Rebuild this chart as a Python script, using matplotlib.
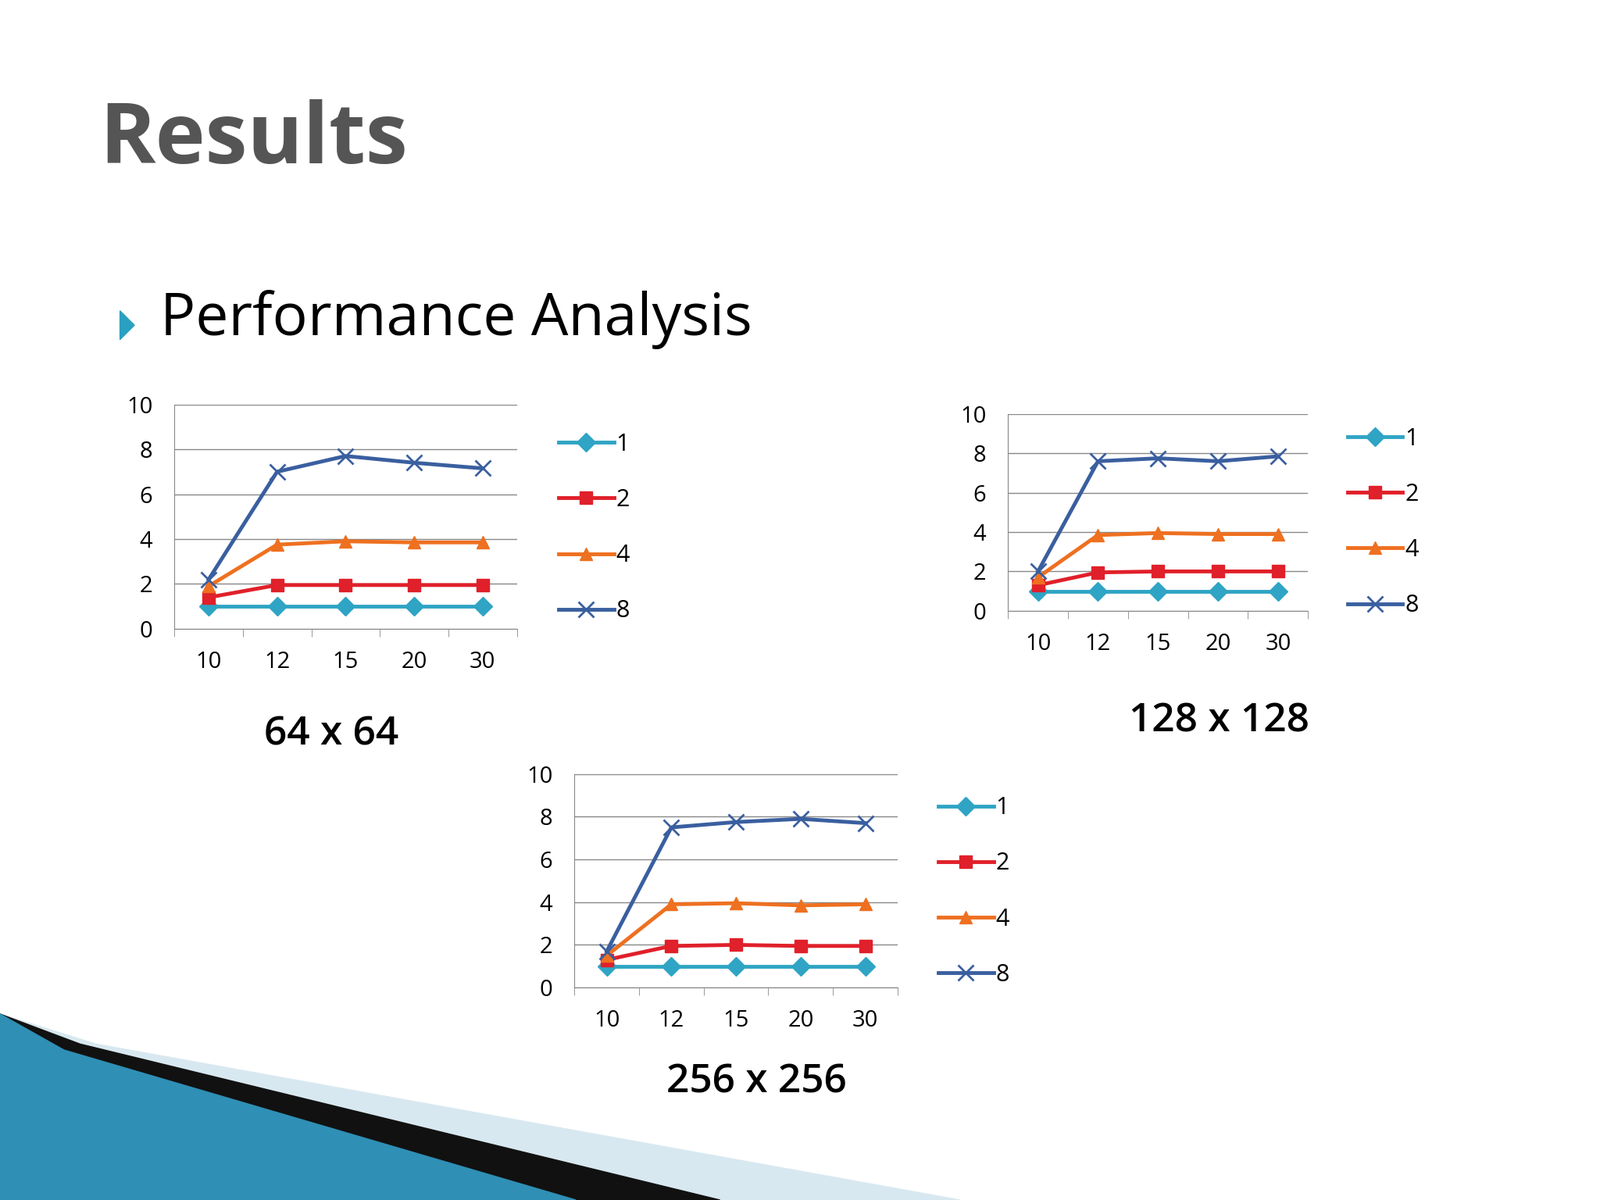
import matplotlib.pyplot as plt
from matplotlib.patches import Polygon

categories = ["10", "12", "15", "20", "30"]
series_names = ["1", "2", "4", "8"]

vals_64 = [
    [1, 1, 1, 1, 1],
    [1.4, 1.95, 1.95, 1.95, 1.95],
    [1.9, 3.75, 3.9, 3.85, 3.85],
    [2.2, 7.0, 7.7, 7.4, 7.15],
]
vals_128 = [
    [1, 1, 1, 1, 1],
    [1.3, 1.95, 2.0, 2.0, 2.0],
    [1.7, 3.85, 3.95, 3.9, 3.9],
    [2.0, 7.6, 7.75, 7.6, 7.85],
]
vals_256 = [
    [1, 1, 1, 1, 1],
    [1.3, 1.95, 2.0, 1.95, 1.95],
    [1.5, 3.9, 3.95, 3.85, 3.9],
    [1.7, 7.5, 7.75, 7.9, 7.7],
]
yticks = [0, 2, 4, 6, 8, 10]

COLORS = ["#2fa4c4", "#e0202a", "#ee7020", "#3a5f9f"]
MARKERS = ["D", "s", "^", "x"]
FONT = "Open Sans"

fig = plt.figure(figsize=(20.48, 15.36), dpi=100)
fig.patch.set_facecolor("white")

# decorative swoosh bottom-left
bg = fig.add_axes([0, 0, 1, 1])
bg.set_xlim(0, 1)
bg.set_ylim(0, 1)
bg.axis("off")
bg.add_patch(Polygon([[0, 0.155], [0.06, 0.13], [0.6, 0.0], [0, 0]], color="#d8e8f0"))
bg.add_patch(Polygon([[0, 0.155], [0.05, 0.13], [0.45, 0.0], [0, 0]], color="#111111"))
bg.add_patch(Polygon([[0, 0.155], [0.04, 0.125], [0.36, 0.0], [0, 0]], color="#2f8fb5"))

fig.text(0.062, 0.882, "Results", fontsize=78, fontweight="bold", color="#555555",
         family=FONT, va="center")
bg.add_patch(Polygon([[0.075, 0.741], [0.075, 0.717], [0.084, 0.729]], color="#2aa0c0"))
fig.text(0.1, 0.734, "Performance Analysis", fontsize=54, color="black", family=FONT, va="center")


def draw_chart(rect, values, caption, cap_xy):
    ax = fig.add_axes(rect)
    x = range(len(categories))
    for vals, name, c, m in zip(values, series_names, COLORS, MARKERS):
        ax.plot(x, vals, color=c, marker=m, lw=3.5, ms=12 if m != "x" else 14,
                mew=2 if m == "x" else 1, label=name)
    ax.set_xlim(-0.5, len(categories) - 0.5)
    ax.set_ylim(0, 10)
    ax.set_yticks(yticks)
    ax.set_xticks(list(x))
    ax.set_xticklabels(categories)
    ax.set_xticks([i - 0.5 for i in range(len(categories) + 1)], minor=True)
    ax.tick_params(axis="x", which="major", length=0, pad=20, labelsize=21)
    ax.tick_params(axis="x", which="minor", length=7, direction="out", color="#888888")
    ax.tick_params(axis="y", length=0, labelsize=21, pad=20)
    for lab in ax.get_xticklabels() + ax.get_yticklabels():
        lab.set_family(FONT)
    ax.grid(axis="y", color="#888888", lw=1)
    for s in ["top", "right"]:
        ax.spines[s].set_visible(False)
    ax.spines["left"].set_color("#888888")
    ax.spines["bottom"].set_color("#888888")
    ax.legend(loc="center left", bbox_to_anchor=(1.06, 0.45), frameon=False,
              labelspacing=1.35, handlelength=2.3, handletextpad=0.1,
              prop={"family": FONT, "size": 22})
    fig.text(cap_xy[0], cap_xy[1], caption, fontsize=37, family=FONT, fontweight="semibold",
             ha="center", va="center")
    return ax


draw_chart([0.109, 0.476, 0.214, 0.187], vals_64, "64 x 64", (0.207, 0.388))
draw_chart([0.630, 0.491, 0.1875, 0.164], vals_128, "128 x 128", (0.762, 0.399))
draw_chart([0.359, 0.177, 0.202, 0.178], vals_256, "256 x 256", (0.473, 0.098))

plt.savefig("out.png", dpi=100)
